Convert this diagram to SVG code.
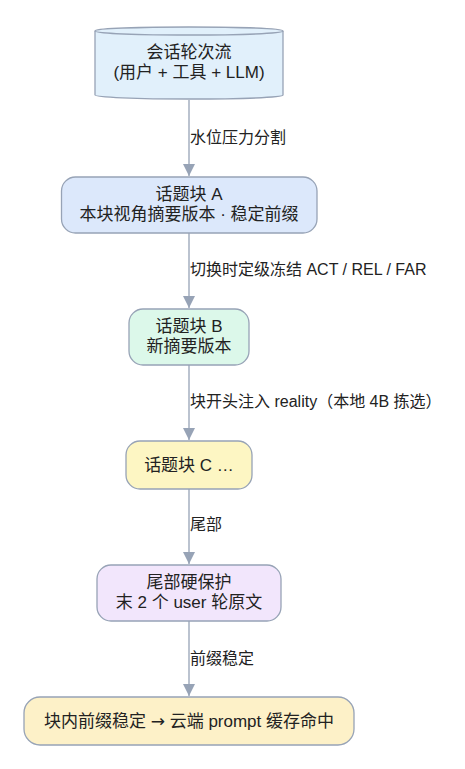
<svg xmlns="http://www.w3.org/2000/svg" width="465" height="769" viewBox="0 0 465 769">
<style>
.n{stroke:#97a3b6;stroke-width:1.3}
.t{font-family:"Liberation Sans","Noto Sans CJK SC",sans-serif;font-size:17px;fill:#222;text-anchor:middle}
.l{font-family:"Liberation Sans","Noto Sans CJK SC",sans-serif;font-size:16px;fill:#222}
.e{stroke:#97a3b6;stroke-width:1.3;fill:none}
.ar{font-family:"DejaVu Sans",sans-serif}
</style>
<defs>
<marker id="a" markerWidth="12" markerHeight="12" refX="10" refY="5" orient="auto" markerUnits="userSpaceOnUse" viewBox="0 0 10 10">
<path d="M0,0 L10,5 L0,10 z" fill="#97a3b6"/>
</marker>
</defs>
<rect width="465" height="769" fill="#fff"/>
<g id="edges">
<line class="e" x1="189" y1="100" x2="189" y2="176" marker-end="url(#a)"/>
<line class="e" x1="189" y1="233" x2="189" y2="308" marker-end="url(#a)"/>
<line class="e" x1="189" y1="365" x2="189" y2="440" marker-end="url(#a)"/>
<line class="e" x1="189" y1="489" x2="189" y2="564" marker-end="url(#a)"/>
<line class="e" x1="189" y1="621" x2="189" y2="696" marker-end="url(#a)"/>
<text class="l" x="190" y="143">水位压力分割</text>
<text class="l" x="190" y="275">切换时定级冻结 ACT / REL / FAR</text>
<text class="l" x="190" y="407">块开头注入 reality（本地 4B 拣选）</text>
<text class="l" x="190" y="530">尾部</text>
<text class="l" x="190" y="664">前缀稳定</text>
</g>
<g id="n0">
<path class="n" fill="#e1f0fb" d="M95,31 A94,4 0 0 1 283,31 L283,95 A94,4 0 0 1 95,95 Z"/>
<path class="n" fill="none" d="M95,31 A94,4 0 0 0 283,31"/>
<text class="t" x="189" y="58">会话轮次流</text>
<text class="t" x="189" y="78">(用户 + 工具 + LLM)</text>
</g>
<g id="n1">
<rect class="n" fill="#dce8fb" x="61.5" y="177" width="255.5" height="56" rx="14"/>
<text class="t" x="189" y="200">话题块 A</text>
<text class="t" x="189" y="220">本块视角摘要版本 · 稳定前缀</text>
</g>
<g id="n2">
<rect class="n" fill="#dcf8ea" x="129" y="309" width="120" height="56" rx="14"/>
<text class="t" x="189" y="332">话题块 B</text>
<text class="t" x="189" y="352">新摘要版本</text>
</g>
<g id="n3">
<rect class="n" fill="#fdf6c3" x="126" y="441" width="126" height="48" rx="14"/>
<text class="t" x="189" y="471">话题块 C …</text>
</g>
<g id="n4">
<rect class="n" fill="#f2e6fc" x="97" y="565" width="184" height="56" rx="14"/>
<text class="t" x="189" y="588">尾部硬保护</text>
<text class="t" x="189" y="608">末 2 个 user 轮原文</text>
</g>
<g id="n5">
<rect class="n" fill="#fdf1c8" x="24" y="697" width="330" height="48" rx="16"/>
<text class="t" x="189" y="727">块内前缀稳定 <tspan class="ar">→</tspan> 云端 prompt 缓存命中</text>
</g>
</svg>
